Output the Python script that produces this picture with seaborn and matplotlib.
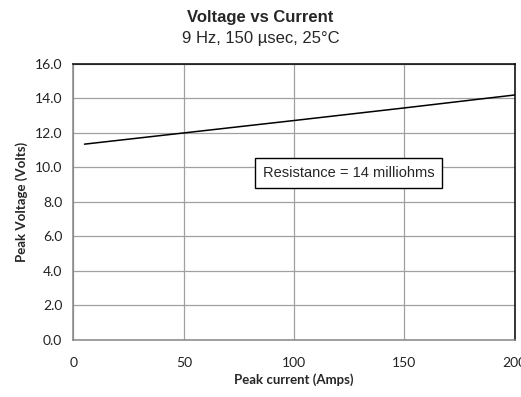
import matplotlib
matplotlib.use("Agg")
import matplotlib.pyplot as plt
import seaborn as sns
import pandas as pd

# Measured peak voltage against peak current
current_amps = [5, 50, 100, 150, 200]
peak_volts = [11.35, 12.0, 12.72, 13.45, 14.2]
y_ticks = [0, 2, 4, 6, 8, 10, 12, 14, 16]
x_ticks = [0, 50, 100, 150, 200]
note_text = "Resistance = 14 milliohms"

sns.set_theme(style="white")
plt.rcParams["font.family"] = ["Liberation Sans", "DejaVu Sans"]

df = pd.DataFrame({"current": current_amps, "volts": peak_volts})

fig = plt.figure(figsize=(5.21, 3.97), dpi=100)
ax = fig.add_axes([0.141, 0.1436, 0.847, 0.6954])

sns.lineplot(data=df, x="current", y="volts", ax=ax, color="black", linewidth=1.1)

ax.set_xlim(0, 200)
ax.set_ylim(0, 16)
ax.set_xticks(x_ticks)
ax.set_yticks(y_ticks)
ax.set_yticklabels([f"{v:.1f}" for v in y_ticks])
ax.grid(True, color="#a0a0a0", linewidth=0.9)
ax.set_axisbelow(True)

for side in ("top", "right"):
    ax.spines[side].set_color("black")
    ax.spines[side].set_linewidth(1.1)
for side in ("left", "bottom"):
    ax.spines[side].set_color("#868686")
    ax.spines[side].set_linewidth(1.1)

ax.tick_params(axis="both", which="major", length=4, width=0.9, color="#868686",
               labelsize=10, labelcolor="#222222", pad=4)
for lbl in ax.get_xticklabels() + ax.get_yticklabels():
    lbl.set_family(["Lato", "DejaVu Sans"])
ax.tick_params(axis="x", pad=8)

ax.set_xlabel("Peak current (Amps)", fontsize=9.5, fontweight="bold",
              family=["Lato", "DejaVu Sans"], labelpad=3)
ax.set_ylabel("Peak Voltage (Volts)", fontsize=9.5, fontweight="bold",
              family=["Lato", "DejaVu Sans"], labelpad=5)

fig.text(0.5, 0.957, "Voltage vs Current", ha="center", va="center",
         fontsize=12, fontweight="bold")
fig.text(0.5, 0.902, "9 Hz, 150 \u00b5sec, 25\u00b0C", ha="center", va="center",
         fontsize=12)

ax.text(124.7, 9.68, note_text, ha="center", va="center", fontsize=10.5,
        bbox=dict(boxstyle="square,pad=0.55", facecolor="white",
                  edgecolor="black", linewidth=1.0))

fig.savefig("out.png", dpi=100)
